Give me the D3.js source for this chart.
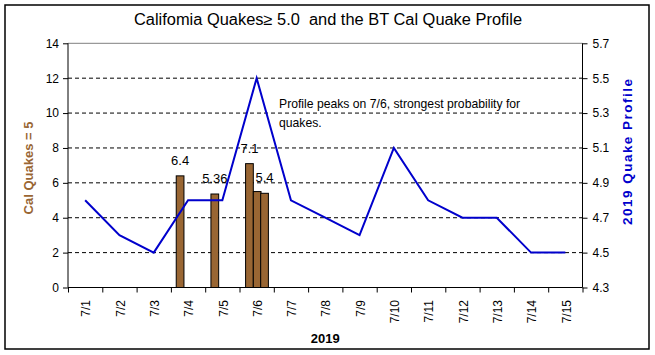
<!DOCTYPE html>
<html>
<head>
<meta charset="utf-8">
<script src="https://cdn.jsdelivr.net/npm/d3@7"></script>
<style>
  html, body { margin: 0; padding: 0; background: #fff; }
  svg { display: block; font-family: Arial, "Liberation Sans", sans-serif; }
</style>
</head>
<body>
<svg id="chart" width="655" height="355"></svg>
<script>
// ---- data ----
const days = ["7/1","7/2","7/3","7/4","7/5","7/6","7/7","7/8","7/9","7/10","7/11","7/12","7/13","7/14","7/15"];
const profile = [4.8, 4.6, 4.5, 4.8, 4.8, 5.5, 4.8, 4.7, 4.6, 5.1, 4.8, 4.7, 4.7, 4.5, 4.5];
const quakeDay = ["7/4", "7/5", "7/6", "7/6", "7/6"];
const quakeDayFraction = [0.268, 0.28, 0.29, 0.515, 0.73];
const quakeMag = [6.4, 5.36, 7.1, 5.5, 5.4];
const quakeLabel = ["6.4", "5.36", "7.1", "", "5.4"];
const leftTicks = [0, 2, 4, 6, 8, 10, 12, 14];
const rightTicks = [4.3, 4.5, 4.7, 4.9, 5.1, 5.3, 5.5, 5.7];
const gridTicks = [2, 4, 6, 8, 10, 12];

// ---- layout ----
const L = 68, R = 582.5, T = 43.3, B = 287.5;
const svg = d3.select("#chart");

svg.append("rect").attr("x", 0).attr("y", 0).attr("width", 655).attr("height", 355).attr("fill", "#fff");
svg.append("rect").attr("x", 5).attr("y", 5).attr("width", 644).attr("height", 344)
  .attr("fill", "none").attr("stroke", "#000").attr("stroke-width", 1.5);

const xBand = d3.scaleBand().domain(days).range([L, R]).padding(0);
const xLin = d3.scaleLinear().domain([0, days.length]).range([L, R]);
const yL = d3.scaleLinear().domain([0, 14]).range([B, T]);
const yR = d3.scaleLinear().domain([4.3, 5.7]).range([B, T]);
const bw = xBand.bandwidth();

// gridlines
svg.append("g").selectAll("line").data(gridTicks).join("line")
  .attr("x1", L).attr("x2", R)
  .attr("y1", d => yL(d)).attr("y2", d => yL(d))
  .attr("stroke", "#000").attr("stroke-width", 1).attr("stroke-dasharray", "4,3");
// top border of plot area
svg.append("line").attr("x1", L).attr("x2", R).attr("y1", yL(14)).attr("y2", yL(14))
  .attr("stroke", "#808080").attr("stroke-width", 1);

// bars
const quakes = quakeMag.map((m, i) => ({ day: quakeDay[i], f: quakeDayFraction[i], m, label: quakeLabel[i] }));
const barW = 0.225 * bw;
svg.append("g").selectAll("rect").data(quakes).join("rect")
  .attr("x", d => xBand(d.day) + d.f * bw - barW / 2)
  .attr("width", barW)
  .attr("y", d => yL(d.m))
  .attr("height", d => yL(0) - yL(d.m))
  .attr("fill", "#996633").attr("stroke", "#000").attr("stroke-width", 1);

// line
const line = d3.line().x((d, i) => xBand(days[i]) + bw / 2).y(d => yR(d));
svg.append("path").datum(profile).attr("d", line)
  .attr("fill", "none").attr("stroke", "#0000CC").attr("stroke-width", 2);

// bar labels
svg.append("g").selectAll("text").data(quakes.filter(d => d.label)).join("text")
  .attr("x", d => xBand(d.day) + d.f * bw)
  .attr("y", d => yL(d.m) - 11)
  .attr("text-anchor", "middle").attr("font-size", 13).attr("fill", "#000")
  .text(d => d.label);

// axes
const axL = svg.append("g").attr("transform", `translate(${L},0)`)
  .call(d3.axisLeft(yL).tickValues(leftTicks).tickSize(5).tickPadding(4).tickFormat(d3.format("d")));
const axR = svg.append("g").attr("transform", `translate(${R},0)`)
  .call(d3.axisRight(yR).tickValues(rightTicks).tickSize(5).tickPadding(5).tickFormat(d3.format(".1f")));
const axB = svg.append("g").attr("transform", `translate(0,${B})`)
  .call(d3.axisBottom(xLin).tickValues(d3.range(0, days.length + 1)).tickSize(5).tickFormat(""));
[axL, axR, axB].forEach(a => {
  a.select(".domain").attr("stroke", "#000").attr("stroke-width", 1);
  a.selectAll(".tick line").attr("stroke", "#000");
  a.selectAll(".tick text").attr("font-size", 12).attr("fill", "#000")
    .attr("font-family", 'Arial, "Liberation Sans", sans-serif');
});
axL.select(".domain").attr("d", `M0,${T}V${B}`);
axR.select(".domain").attr("d", `M0,${T}V${B}`);
axB.select(".domain").attr("d", `M${L},0H${R}`);

// x category labels (rotated)
svg.append("g").selectAll("text").data(days).join("text")
  .attr("transform", d => `translate(${xBand(d) + bw / 2 + 1},300) rotate(-90)`)
  .attr("text-anchor", "end").attr("dy", "0.35em")
  .attr("font-size", 12).attr("fill", "#000")
  .text(d => d);

// titles
svg.append("text").attr("x", 328).attr("y", 25).attr("text-anchor", "middle")
  .attr("font-size", 16).attr("fill", "#000")
  .attr("textLength", 388).attr("lengthAdjust", "spacingAndGlyphs")
  .text("Califomia Quakes\u2265 5.0  and the BT Cal Quake Profile").attr("xml:space", "preserve");
svg.append("text").attr("x", (L + R) / 2).attr("y", 343).attr("text-anchor", "middle")
  .attr("font-size", 13).attr("font-weight", "bold").attr("fill", "#000").text("2019");
svg.append("text").attr("transform", "translate(33,168) rotate(-90)").attr("text-anchor", "middle")
  .attr("font-size", 13).attr("font-weight", "bold").attr("fill", "#996633").text("Cal Quakes = 5");
svg.append("text").attr("transform", "translate(632,152) rotate(-90)").attr("text-anchor", "middle")
  .attr("font-size", 13.5).attr("font-weight", "bold").attr("fill", "#0000CC")
  .attr("textLength", 146).attr("lengthAdjust", "spacing")
  .text("2019 Quake Profile");

// annotation
const ann = svg.append("text").attr("font-size", 12.2).attr("fill", "#000");
ann.append("tspan").attr("x", 279).attr("y", 108).text("Profile peaks on 7/6, strongest probability for");
ann.append("tspan").attr("x", 279).attr("y", 127).text("quakes.");
</script>
</body>
</html>
